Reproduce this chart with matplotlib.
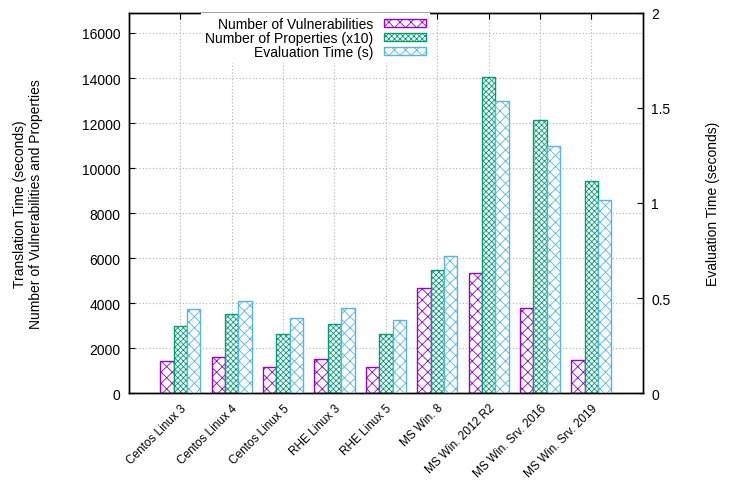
import numpy as np
import matplotlib
matplotlib.use("Agg")
import matplotlib.pyplot as plt

plt.rcParams['font.family'] = ['Liberation Sans', 'DejaVu Sans']
plt.rcParams['hatch.linewidth'] = 0.6

systems = ["Centos Linux 3", "Centos Linux 4", "Centos Linux 5", "RHE Linux 3",
           "RHE Linux 5", "MS Win. 8", "MS Win. 2012 R2", "MS Win. Srv. 2016",
           "MS Win. Srv. 2019"]
vulnerabilities = [1420, 1610, 1160, 1520, 1160, 4680, 5320, 3800, 1460]
properties_x10 = [2980, 3500, 2620, 3080, 2620, 5480, 14060, 12140, 9440]
eval_time = [0.442, 0.484, 0.395, 0.447, 0.384, 0.724, 1.538, 1.298, 1.017]

left_max = 16900
right_max = 2.0

fig = plt.figure(figsize=(7.38, 4.89), dpi=100)
ax = fig.add_axes([0.1748, 0.1937, 0.6961, 0.7783])
ax2 = ax.twinx()

x = np.arange(len(systems))
w = 0.26
b1 = ax.bar(x - w, vulnerabilities, w, facecolor='white', edgecolor='#9400d3',
            hatch='xxx', linewidth=1.0, label='Number of Vulnerabilities', zorder=2)
b2 = ax.bar(x, properties_x10, w, facecolor='white', edgecolor='#009e73',
            hatch='xxxxxx', linewidth=1.0, label='Number of Properties (x10)', zorder=2)
b3 = ax2.bar(x + w, eval_time, w, facecolor='white', edgecolor='#56b4e9',
             hatch='xxx', linewidth=1.0, label='Evaluation Time (s)', zorder=2)

ax.set_xlim(-1, len(systems))
ax.set_ylim(0, left_max)
ax2.set_ylim(0, right_max)

ax.set_yticks(np.arange(0, 16001, 2000))
ax2.set_yticks([0, 0.5, 1, 1.5, 2])
ax2.set_yticklabels(['0', '0.5', '1', '1.5', '2'])
ax.set_xticks(x)
ax.set_xticklabels(systems, rotation=45, ha='right', rotation_mode='anchor', fontsize=8.5)

ax.tick_params(axis='both', direction='in', length=4, labelsize=10)
ax.tick_params(axis='x', top=True, pad=6, labelsize=8.5)
ax.tick_params(axis='y', pad=6)
ax2.tick_params(axis='y', direction='in', length=4, labelsize=10, pad=6)

ax.grid(True, color='#b0b0b0', linestyle=(0, (1, 2)), linewidth=0.8, zorder=0)
ax.set_axisbelow(True)

ax.set_ylabel("Translation Time (seconds)\nNumber of Vulnerabilities and Properties",
              fontsize=10, labelpad=28)
ax2.set_ylabel("Evaluation Time (seconds)", fontsize=10, labelpad=26)

for a in (ax, ax2):
    for s in a.spines.values():
        s.set_linewidth(1.0)

leg = ax2.legend(handles=[b1, b2, b3], loc='upper right', bbox_to_anchor=(0.586, 1.0),
                 borderaxespad=0, markerfirst=False, handlelength=3.0, handleheight=0.5,
                 handletextpad=0.8, labelspacing=0.0, fontsize=10, frameon=True,
                 fancybox=False, borderpad=0.3)
leg.get_frame().set_facecolor('white')
leg.get_frame().set_edgecolor('none')
leg.get_frame().set_alpha(1.0)

fig.savefig("out.png", dpi=100)
